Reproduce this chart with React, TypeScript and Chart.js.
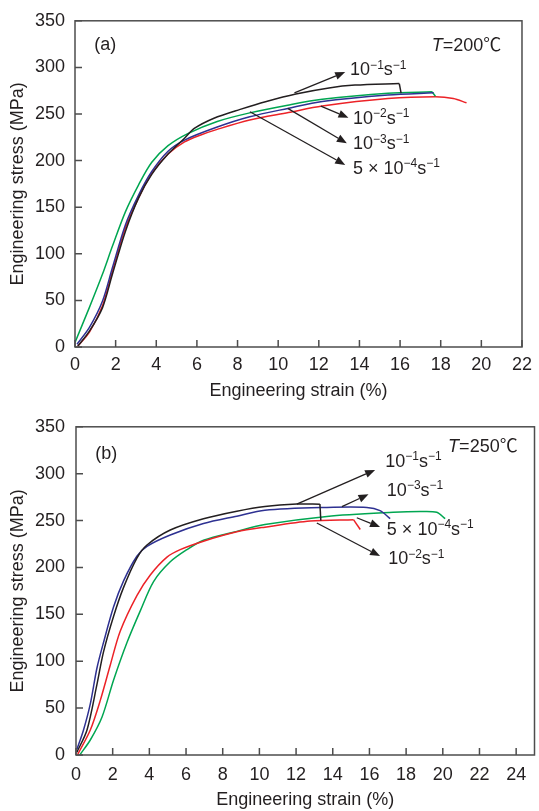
import React, { useEffect, useRef } from 'react';
import { Chart, registerables } from 'chart.js';
Chart.register(...registerables);

const FONT_FAMILY = '"Liberation Sans", Arial, Helvetica, "Noto Sans CJK SC", "DejaVu Sans", sans-serif';
const TEXT = '#231f20';
const AXIS = '#4d4d4d';
const BLACK = '#231f20';
const RED = '#ec2227';
const BLUE = '#2e3192';
const GREEN = '#00a651';

const X_TITLE = 'Engineering strain (%)';
const Y_TITLE = 'Engineering stress (MPa)';

// ---------- Panel (a): T = 200 ℃ ----------
const A_X_MAX = 22;
const A_Y_MAX = 350;
const A_BLACK_X = [0.14, 0.71, 1.35, 1.84, 2.48, 3.13, 3.77, 4.58, 5.39, 5.87, 6.84, 8.13, 9.42, 10.87, 12.5, 13.78, 15.96];
const A_BLACK_Y = [1, 17, 42, 78, 124, 160, 185, 207, 224, 234.5, 245.5, 255, 263.5, 271.5, 278, 281, 282.7];
const A_BLACK_DROP_X = [15.96, 16.05];
const A_BLACK_DROP_Y = [282.7, 272.5];
const A_BLUE_X = [0.1, 0.71, 1.35, 1.84, 2.48, 3.13, 3.77, 4.58, 5.39, 7.0, 8.6, 10.47, 12.17, 15.4, 17.65];
const A_BLUE_Y = [3, 21, 49, 85, 131, 163, 188, 210, 222, 236, 247, 256, 263.5, 270.5, 272.7];
const A_GREEN_X = [0, 0.7, 1.35, 1.84, 2.48, 3.13, 3.77, 4.58, 5.55, 7.0, 8.6, 10.47, 12.17, 15.4, 17.57];
const A_GREEN_Y = [5, 42, 78, 108, 145, 174, 198, 216, 229, 242, 251.2, 259.5, 265.8, 272.3, 273.8];
const A_GREEN_DROP_X = [17.57, 17.74];
const A_GREEN_DROP_Y = [273.8, 269];
const A_RED_X = [0.14, 0.71, 1.35, 1.84, 2.48, 3.13, 3.77, 4.58, 5.39, 6.19, 7.0, 8.6, 10.5, 12.17, 15.4, 17.74, 18.62, 19.27];
const A_RED_Y = [1, 16, 44, 81, 127.6, 160, 186, 207, 220, 227.5, 233.5, 243.5, 251.5, 258.5, 266.5, 268.5, 266.6, 262];

const A_ARROWS = [
  { from: [10.8, 272.7], to: [13.3, 295] },
  { from: [12.1, 258.5], to: [13.46, 246] },
  { from: [10.47, 256], to: [13.38, 218.5] },
  { from: [8.61, 252.4], to: [13.3, 195.4] },
];
const A_LABELS = [
  { at: [13.54, 297], text: '10^{-1}s^{-1}' },
  { at: [13.68, 245], text: '10^{-2}s^{-1}' },
  { at: [13.68, 217.6], text: '10^{-3}s^{-1}' },
  { at: [13.68, 191], text: '5 × 10^{-4}s^{-1}' },
  { at: [0.95, 324], text: '(a)' },
  { at: [17.56, 322.5], text: '*T*=200℃' },
];

// ---------- Panel (b): T = 250 ℃ ----------
const B_X_MAX = 25;
const B_Y_MAX = 350;
const B_BLACK_X = [0.05, 0.6, 1.14, 1.5, 2.05, 2.6, 3.32, 3.87, 5.14, 6.95, 8.77, 10.3, 12.04, 13.3];
const B_BLACK_Y = [3, 26.7, 75, 110, 148, 179, 210, 224, 240, 252, 260, 265, 267.6, 267.5];
const B_BLACK_DROP_X = [13.3, 13.35];
const B_BLACK_DROP_Y = [267.5, 250];
const B_BLUE_X = [0.05, 0.41, 0.78, 1.14, 1.5, 2.05, 2.6, 3.32, 3.87, 5.14, 6.95, 8.77, 10.3, 13.68, 15.86, 16.58, 17.13];
const B_BLUE_Y = [6, 26.7, 54.5, 92.5, 120, 158, 186, 212, 222.5, 234.6, 246.8, 254.7, 261, 264, 264, 260.6, 252];
const B_RED_X = [0.1, 0.78, 1.32, 1.87, 2.41, 3.32, 4.05, 4.96, 5.68, 6.95, 8.77, 10.3, 12.77, 15.13];
const B_RED_Y = [1, 26.7, 58, 96, 132, 170, 192, 211, 219, 228, 238, 243, 249.5, 251];
const B_RED_DROP_X = [15.13, 15.5];
const B_RED_DROP_Y = [251, 240.5];
const B_GREEN_X = [0.23, 0.78, 1.42, 2.05, 2.78, 3.51, 4.23, 5.14, 6.05, 6.95, 8.77, 10.3, 13.68, 17.3, 18.76, 19.67, 20.13];
const B_GREEN_Y = [0.7, 16, 40.5, 80, 120, 154, 185, 206, 219, 229, 238.5, 245.7, 254.4, 258.8, 259.6, 258.8, 252];

const B_ARROWS = [
  { from: [12.04, 267.6], to: [16.31, 304.0] },
  { from: [14.5, 264.8], to: [15.95, 278.0] },
  { from: [15.31, 253.0], to: [16.58, 243.2] },
  { from: [13.13, 247.4], to: [16.58, 212.1] },
];
const B_LABELS = [
  { at: [16.86, 312.6], text: '10^{-1}s^{-1}' },
  { at: [16.95, 281.4], text: '10^{-3}s^{-1}' },
  { at: [16.95, 239.8], text: '5 × 10^{-4}s^{-1}' },
  { at: [17.02, 208.6], text: '10^{-2}s^{-1}' },
  { at: [1.05, 321], text: '(b)' },
  { at: [20.29, 328], text: '*T*=250℃' },
];

type Part = { t: string; sup?: boolean; it?: boolean };

function parseRich(s: string): Part[] {
  const parts: Part[] = [];
  const re = /\^\{([^}]*)\}|\*([^*]*)\*/g;
  let last = 0;
  let m: RegExpExecArray | null;
  while ((m = re.exec(s))) {
    if (m.index > last) parts.push({ t: s.slice(last, m.index) });
    if (m[1] !== undefined) parts.push({ t: m[1].replace(/-/g, '\u2212'), sup: true });
    else parts.push({ t: m[2], it: true });
    last = re.lastIndex;
  }
  if (last < s.length) parts.push({ t: s.slice(last) });
  return parts;
}

function drawRich(ctx: CanvasRenderingContext2D, x: number, y: number, s: string) {
  let cx = x;
  ctx.textAlign = 'left';
  ctx.textBaseline = 'middle';
  ctx.fillStyle = TEXT;
  for (const p of parseRich(s)) {
    if (p.sup) {
      ctx.font = `12px ${FONT_FAMILY}`;
      ctx.fillText(p.t, cx, y - 5);
    } else {
      ctx.font = `${p.it ? 'italic ' : ''}18px ${FONT_FAMILY}`;
      ctx.fillText(p.t, cx, y);
    }
    cx += ctx.measureText(p.t).width;
  }
}

function makeDecor(arrows: any[], labels: any[]) {
  return {
    id: 'decor',
    afterDatasetsDraw(chart: any) {
      const { ctx, chartArea: a, scales } = chart;
      const xs = scales.x;
      const ys = scales.y;
      ctx.save();
      ctx.strokeStyle = AXIS;
      ctx.lineWidth = 1.5;
      ctx.strokeRect(a.left, a.top, a.right - a.left, a.bottom - a.top);
      ctx.beginPath();
      xs.ticks.forEach((t: any) => {
        const px = xs.getPixelForValue(t.value);
        ctx.moveTo(px, a.bottom);
        ctx.lineTo(px, a.bottom - 7);
      });
      ys.ticks.forEach((t: any) => {
        const py = ys.getPixelForValue(t.value);
        ctx.moveTo(a.left, py);
        ctx.lineTo(a.left + 7, py);
      });
      ctx.stroke();
      ctx.strokeStyle = TEXT;
      ctx.fillStyle = TEXT;
      ctx.lineWidth = 1.3;
      for (const ar of arrows) {
        const x0 = xs.getPixelForValue(ar.from[0]);
        const y0 = ys.getPixelForValue(ar.from[1]);
        const x1 = xs.getPixelForValue(ar.to[0]);
        const y1 = ys.getPixelForValue(ar.to[1]);
        const ang = Math.atan2(y1 - y0, x1 - x0);
        const hl = 10;
        const hw = 4;
        const bx = x1 - hl * Math.cos(ang);
        const by = y1 - hl * Math.sin(ang);
        ctx.beginPath();
        ctx.moveTo(x0, y0);
        ctx.lineTo(bx, by);
        ctx.stroke();
        ctx.beginPath();
        ctx.moveTo(x1, y1);
        ctx.lineTo(bx + hw * Math.sin(ang), by - hw * Math.cos(ang));
        ctx.lineTo(bx - hw * Math.sin(ang), by + hw * Math.cos(ang));
        ctx.closePath();
        ctx.fill();
      }
      for (const lb of labels) {
        drawRich(ctx, xs.getPixelForValue(lb.at[0]), ys.getPixelForValue(lb.at[1]), lb.text);
      }
      ctx.restore();
    },
  };
}

function series(xv: number[], yv: number[], color: string, smooth: boolean) {
  return {
    data: xv.map((x, i) => ({ x, y: yv[i] })),
    borderColor: color,
    borderWidth: 1.5,
    pointRadius: 0,
    fill: false,
    tension: smooth ? 0.3 : 0,
  };
}

function buildConfig(o: any) {
  const font = { family: FONT_FAMILY, size: 18 };
  return {
    type: 'line',
    data: { datasets: o.datasets },
    plugins: [makeDecor(o.arrows, o.labels)],
    options: {
      animation: false,
      responsive: false,
      maintainAspectRatio: false,
      devicePixelRatio: 1,
      layout: { padding: { top: o.padTop, right: o.padRight, left: 0, bottom: 0 } },
      plugins: { legend: { display: false }, tooltip: { enabled: false } },
      elements: { point: { radius: 0 } },
      scales: {
        x: {
          type: 'linear',
          min: 0,
          max: o.xMax,
          grid: { display: false, drawTicks: false },
          border: { display: false },
          ticks: { stepSize: 2, includeBounds: false, font, color: TEXT, padding: o.xTickPad, maxRotation: 0 },
          title: { display: true, text: X_TITLE, font, color: TEXT, padding: { top: 0, bottom: o.xTitlePad } },
          afterFit: (s: any) => { s.height = o.xHeight; },
        },
        y: {
          type: 'linear',
          min: 0,
          max: o.yMax,
          grid: { display: false, drawTicks: false },
          border: { display: false },
          ticks: { stepSize: 50, font, color: TEXT, padding: o.yTickPad },
          title: { display: true, text: Y_TITLE, font, color: TEXT, padding: { top: 7, bottom: 0 } },
          afterFit: (s: any) => { s.width = o.yWidth; },
        },
      },
    },
  };
}

const configA = () => buildConfig({
  datasets: [
    series(A_BLACK_X, A_BLACK_Y, BLACK, true),
    series(A_BLACK_DROP_X, A_BLACK_DROP_Y, BLACK, false),
    series(A_BLUE_X, A_BLUE_Y, BLUE, true),
    series(A_GREEN_X, A_GREEN_Y, GREEN, true),
    series(A_GREEN_DROP_X, A_GREEN_DROP_Y, GREEN, false),
    series(A_RED_X, A_RED_Y, RED, true),
  ],
  arrows: A_ARROWS,
  labels: A_LABELS,
  xMax: A_X_MAX,
  yMax: A_Y_MAX,
  padTop: 17,
  padRight: 9,
  xHeight: 58,
  yWidth: 75,
  xTickPad: 7,
  yTickPad: 10,
  xTitlePad: 3,
});

const configB = () => buildConfig({
  datasets: [
    series(B_BLACK_X, B_BLACK_Y, BLACK, true),
    series(B_BLACK_DROP_X, B_BLACK_DROP_Y, BLACK, false),
    series(B_BLUE_X, B_BLUE_Y, BLUE, true),
    series(B_RED_X, B_RED_Y, RED, true),
    series(B_RED_DROP_X, B_RED_DROP_Y, RED, false),
    series(B_GREEN_X, B_GREEN_Y, GREEN, true),
  ],
  arrows: B_ARROWS,
  labels: B_LABELS,
  xMax: B_X_MAX,
  yMax: B_Y_MAX,
  padTop: 15,
  padRight: 4.5,
  xHeight: 56,
  yWidth: 76,
  xTickPad: 9,
  yTickPad: 11,
  xTitlePad: 0,
});

function Panel({ top, height, config }: { top: number; height: number; config: () => any }) {
  const ref = useRef<HTMLCanvasElement>(null);
  useEffect(() => {
    const chart = new Chart(ref.current as HTMLCanvasElement, config());
    return () => chart.destroy();
  }, []);
  return (
    <canvas
      ref={ref}
      width={539}
      height={height}
      style={{ position: 'absolute', left: 0, top, width: 539, height }}
    />
  );
}

export default function App() {
  return (
    <div style={{ position: 'absolute', left: 0, top: 0, width: 539, height: 811, background: '#fff', overflow: 'hidden' }}>
      <Panel top={0} height={405} config={configA} />
      <Panel top={405} height={406} config={configB} />
    </div>
  );
}
